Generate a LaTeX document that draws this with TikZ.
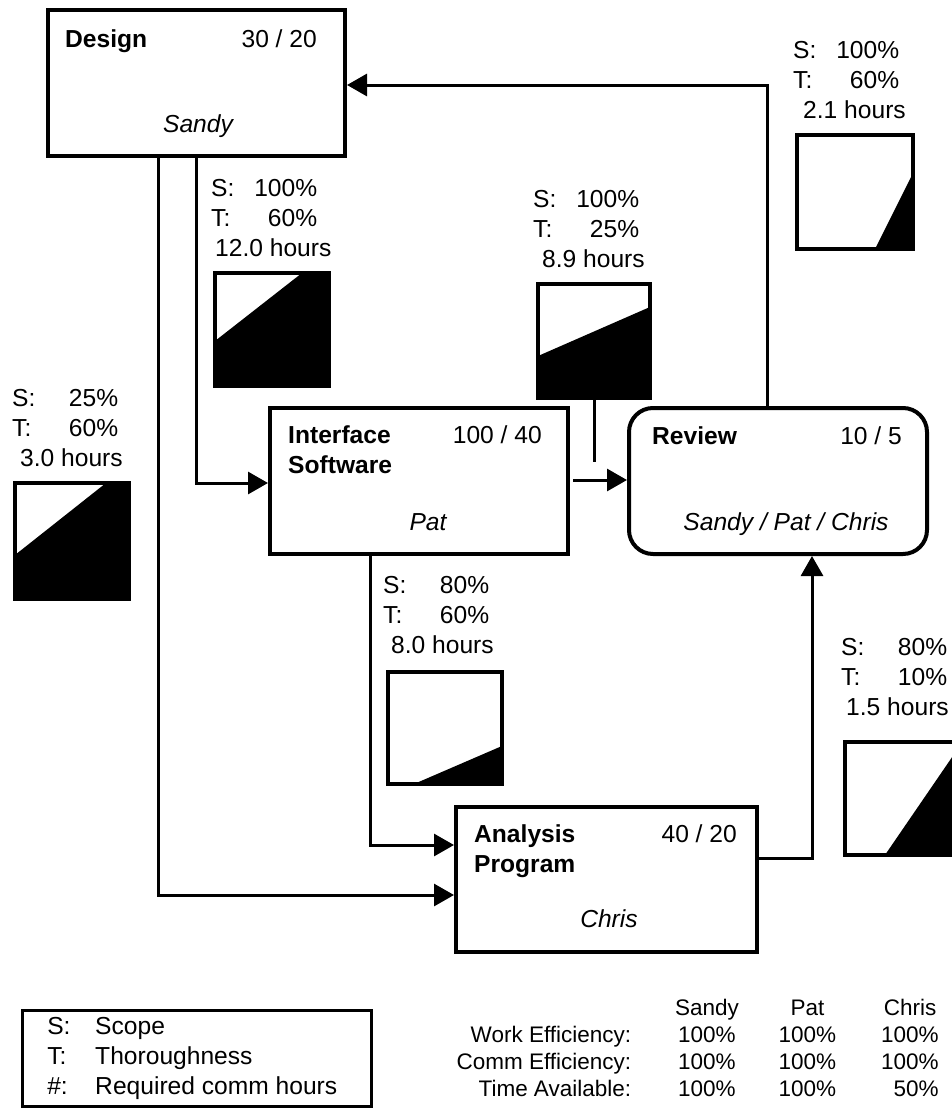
\documentclass[tikz,border=0pt]{standalone}
\usepackage{fontspec}
\setmainfont{Liberation Sans}
\usetikzlibrary{arrows.meta}
\newcommand{\pctline}[2]{\makebox[106pt][s]{#1:\hfill #2}}
\tikzset{
  every picture/.style={x=1pt, y=-1pt, font=\fontsize{24.6}{30}\selectfont},
  task/.style={draw, line width=4pt, inner sep=0pt, minimum width=298pt, minimum height=146pt},
  ttl/.style={font=\fontsize{24.6}{30}\selectfont\bfseries, inner sep=0pt, anchor=base west},
  num/.style={inner sep=0pt, anchor=base east},
  who/.style={font=\fontsize{24.6}{30}\selectfont\itshape, inner sep=0pt, anchor=base},
  link/.style={line width=3pt},
  arrow/.style={link, -{Triangle[length=20pt, width=22pt]}},
  attr/.style={inner sep=0pt, anchor=base west},
  sq/.style={draw, line width=4.5pt, inner sep=0pt, minimum width=114pt, minimum height=113pt},
  key/.style={draw, line width=2.5pt, inner xsep=25pt, inner ysep=0pt, minimum width=348pt, minimum height=96pt},
}

\begin{document}
\begin{tikzpicture}
  \useasboundingbox (0,0) rectangle (952,1111);
  \fill[white] (0,0) rectangle (952,1111);
  \clip (0,0) rectangle (952,1111);

  % tasks
  \node[task, minimum width=297pt] (design) at (196.5,83) {};
  \node[ttl] (design-t) at (65,47) {Design};
  \node[num] (design-n) at (317,47) {30 / 20};
  \node[who] (design-w) at (198,132) {Sandy};

  \node[task] (iface) at (419,481) {};
  \node[ttl] (iface-t) at (288,443) {\begin{tabular}[t]{@{}l@{}}Interface\\Software\end{tabular}};
  \node[num] (iface-n) at (542,443) {100 / 40};
  \node[who] (iface-w) at (428,530) {Pat};

  \node[task, rounded corners=24pt] (review) at (778,481) {};
  \node[ttl] (review-t) at (652,444) {Review};
  \node[num] (review-n) at (902,444) {10 / 5};
  \node[who] (review-w) at (786,530) {Sandy / Pat / Chris};

  \node[task, minimum width=301pt, minimum height=145pt] (analysis) at (606.5,879.5) {};
  \node[ttl] (analysis-t) at (474,842) {\begin{tabular}[t]{@{}l@{}}Analysis\\Program\end{tabular}};
  \node[num] (analysis-n) at (737,842) {40 / 20};
  \node[who] (analysis-w) at (609,927) {Chris};

  % links
  \draw[arrow] ([shift={(-38.5,0)}]design.south) |- ([shift={(0,15.5)}]analysis.west);
  \draw[arrow] (design.south) |- ([shift={(0,2)}]iface.west);
  \draw[arrow] ([shift={(-49,0)}]iface.south) |- ([shift={(0,-34.5)}]analysis.west);
  \draw[arrow] ([shift={(3,-1)}]iface.east) -- ([shift={(0,-1)}]review.west);
  \draw[arrow] ([shift={(0,-21.5)}]analysis.east) -| ([shift={(34,0)}]review.south);
  \draw[arrow] ([shift={(-11,0)}]review.north) |- ([shift={(0,2)}]design.east);

  % design -> interface
  \node[attr] (a-di) at (211,196) {\begin{tabular}[t]{@{}l@{}}\pctline{S}{100\%}\\\pctline{T}{60\%}\\\hspace*{4pt}12.0 hours\end{tabular}};
  \fill (215,341) -- (302,273) -- (329,273) -- (329,386) -- (215,386) -- cycle;
  \node[sq] (q-di) at (272,329.5) {};

  % design -> analysis
  \node[attr] (a-da) at (12,406) {\begin{tabular}[t]{@{}l@{}}\pctline{S}{25\%}\\\pctline{T}{60\%}\\\hspace*{8pt}3.0 hours\end{tabular}};
  \fill (15,555) -- (106,483) -- (129,483) -- (129,599) -- (15,599) -- cycle;
  \node[sq, minimum height=116pt] (q-da) at (72,541) {};

  % interface -> review
  \node[attr] (a-ir) at (533,207) {\begin{tabular}[t]{@{}l@{}}\pctline{S}{100\%}\\\pctline{T}{25\%}\\\hspace*{9pt}8.9 hours\end{tabular}};
  \fill (538,356) -- (650,307) -- (650,398) -- (538,398) -- cycle;
  \node[sq, minimum width=112pt, minimum height=114pt] (q-ir) at (594,341) {};
  \coordinate (ir-stub) at (594,462);
  \draw[link] (q-ir.south) -- (ir-stub);

  % review -> design
  \node[attr] (a-rd) at (793,58) {\begin{tabular}[t]{@{}l@{}}\pctline{S}{100\%}\\\pctline{T}{60\%}\\\hspace*{10pt}2.1 hours\end{tabular}};
  \fill (875,249) -- (913,173) -- (913,249) -- cycle;
  \node[sq, minimum width=116pt, minimum height=114pt] (q-rd) at (855,192) {};

  % interface -> analysis
  \node[attr] (a-ia) at (383,593) {\begin{tabular}[t]{@{}l@{}}\pctline{S}{80\%}\\\pctline{T}{60\%}\\\hspace*{8pt}8.0 hours\end{tabular}};
  \fill (414,784) -- (502,746) -- (502,784) -- cycle;
  \node[sq, minimum height=112pt] (q-ia) at (445,728) {};

  % analysis -> review
  \node[attr] (a-ar) at (841,655) {\begin{tabular}[t]{@{}l@{}}\pctline{S}{80\%}\\\pctline{T}{10\%}\\\hspace*{5pt}1.5 hours\end{tabular}};
  \fill (885,855) -- (959,747) -- (959,855) -- cycle;
  \node[sq] (q-ar) at (902,798.5) {};

  % legend and people
  \node[key, anchor=north west] (legend) at (21,1009) {\begin{tabular}{@{}p{48pt}@{}l@{\hspace*{9pt}}}S: & Scope\\T: & Thoroughness\\\#: & Required comm hours\end{tabular}};
  \node[inner sep=0pt, anchor=base east, font=\fontsize{22.5}{27.3}\selectfont] (people) at (939,1015) {\begin{tabular}[t]{@{}r@{\hspace{47pt}}r@{\hspace{43pt}}r@{\hspace{45pt}}r@{}}
    & \makebox[57.5pt]{Sandy} & \makebox[57.5pt]{Pat} & \makebox[57.5pt]{Chris}\\
    Work Efficiency: & 100\% & 100\% & 100\%\\
    Comm Efficiency: & 100\% & 100\% & 100\%\\
    Time Available: & 100\% & 100\% & 50\%
  \end{tabular}};
\end{tikzpicture}
\end{document}
